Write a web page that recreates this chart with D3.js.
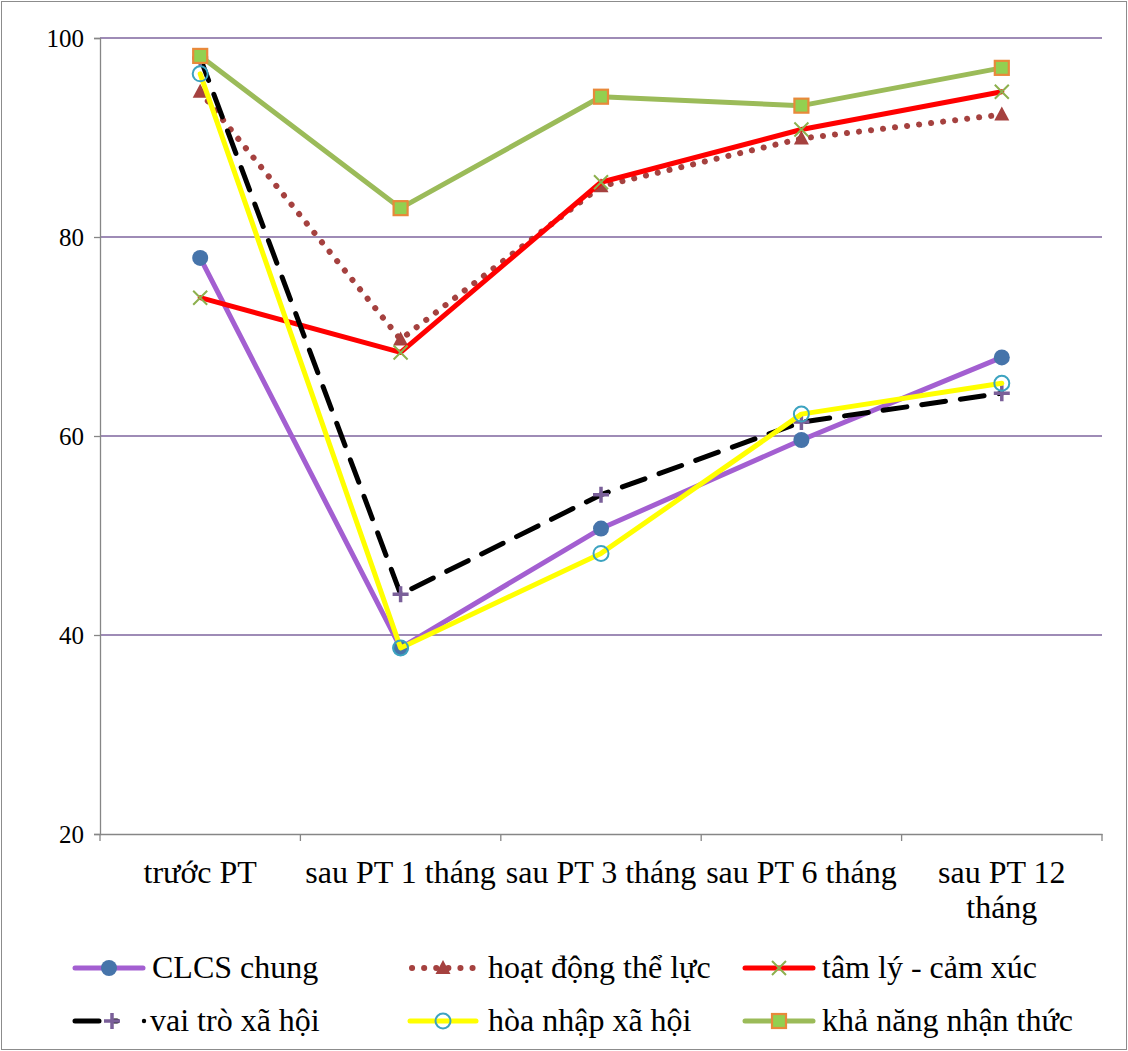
<!DOCTYPE html>
<html>
<head>
<meta charset="utf-8">
<script src="https://cdn.jsdelivr.net/npm/d3@7/dist/d3.min.js"></script>
<style>
  body { margin: 0; background: #fff; }
  svg, svg text { font-family: "Liberation Serif", "Times New Roman", "DejaVu Serif", serif; }
</style>
</head>
<body>
<svg id="chart" width="1128" height="1051"></svg>
<script>
// Time points after surgery
const categories = ["trước PT", "sau PT 1 tháng", "sau PT 3 tháng", "sau PT 6 tháng", "sau PT 12 tháng"];
const categoryLines = [["trước PT"], ["sau PT 1 tháng"], ["sau PT 3 tháng"], ["sau PT 6 tháng"], ["sau PT 12", "tháng"]];
const yTicks = [20, 40, 60, 80, 100];

// Quality-of-life scores per domain
const clcsChung   = [77.9, 38.7, 50.7, 59.6, 67.9];
const hoatDong    = [94.6, 69.7, 85.1, 89.9, 92.3];
const tamLy       = [73.9, 68.4, 85.5, 90.8, 94.6];
const vaiTro      = [98.0, 44.1, 54.1, 61.4, 64.3];
const hoaNhap     = [96.4, 38.7, 48.2, 62.2, 65.3];
const khaNang     = [98.2, 82.9, 94.1, 93.2, 97.0];

const seriesNames = ["CLCS chung", "hoạt động thể lực", "tâm lý - cảm xúc", "vai trò xã hội", "hòa nhập xã hội", "khả năng nhận thức"];
const seriesValues = [clcsChung, hoatDong, tamLy, vaiTro, hoaNhap, khaNang];

const FONT = "'Liberation Serif', 'Times New Roman', 'DejaVu Serif', serif";

const styles = [
  { stroke: "#A35FD1", width: 5, dash: null, marker: "dot" },
  { stroke: "#A5413F", width: 6, dash: "0.1 12", marker: "triangle" },
  { stroke: "#FF0000", width: 5, dash: null, marker: "x" },
  { stroke: "#000000", width: 5, dash: "24 15", marker: "plus" },
  { stroke: "#FFFF00", width: 5, dash: null, marker: "ring" },
  { stroke: "#9BBB59", width: 5, dash: null, marker: "square" }
];

const svg = d3.select("#chart");
const W = 1128, H = 1051;
const plot = { left: 100, right: 1102, top: 38, bottom: 834 };

// frame around the figure
svg.append("rect").attr("x", 1.5).attr("y", 1.5).attr("width", W - 3).attr("height", H - 3)
  .attr("fill", "none").attr("stroke", "#8c8c8c").attr("stroke-width", 1);

const x = d3.scaleBand().domain(categories).range([plot.left, plot.right]).padding(0);
const y = d3.scaleLinear().domain([20, 100]).range([plot.bottom, plot.top]);
const cx = c => x(c) + x.bandwidth() / 2;

// horizontal gridlines
svg.append("g").selectAll("line").data(yTicks.filter(t => t > 20)).join("line")
  .attr("x1", plot.left).attr("x2", plot.right)
  .attr("y1", d => y(d)).attr("y2", d => y(d))
  .attr("stroke", "#7E649E").attr("stroke-width", 1.5);

// y axis
const yAxis = d3.axisLeft(y).tickValues(yTicks).tickSize(6).tickPadding(10);
const gy = svg.append("g").attr("transform", `translate(${plot.left},0)`).call(yAxis)
  .attr("font-family", FONT);
gy.select(".domain").attr("stroke", "#868686").attr("stroke-width", 1.3);
gy.selectAll(".tick line").attr("stroke", "#868686").attr("stroke-width", 1.3);
gy.selectAll(".tick text").attr("font-size", 25).attr("font-family", FONT).attr("fill", "#000");

// x axis
const xAxis = d3.axisBottom(x).tickSize(0).tickFormat(() => "");
const gx = svg.append("g").attr("transform", `translate(0,${plot.bottom})`).call(xAxis);
gx.select(".domain").attr("stroke", "#868686").attr("stroke-width", 1.3);
// tick marks at category boundaries
const bounds = categories.map(c => x(c)).concat([plot.right]);
svg.append("g").selectAll("line").data(bounds).join("line")
  .attr("x1", d => d).attr("x2", d => d)
  .attr("y1", plot.bottom).attr("y2", plot.bottom + 7)
  .attr("stroke", "#868686").attr("stroke-width", 1.3);

// category labels
const catG = svg.append("g");
categories.forEach((c, i) => {
  const t = catG.append("text").attr("x", cx(c)).attr("y", 883)
    .attr("text-anchor", "middle").attr("font-size", 32).attr("font-family", FONT).attr("fill", "#000");
  categoryLines[i].forEach((ln, j) => {
    t.append("tspan").attr("x", cx(c)).attr("dy", j === 0 ? 0 : 35).text(ln);
  });
});

// marker drawing
function drawMarker(g, type, px, py) {
  switch (type) {
    case "dot":
      g.append("circle").attr("cx", px).attr("cy", py).attr("r", 8).attr("fill", "#4674AA");
      break;
    case "triangle":
      g.append("path").attr("d", `M${px},${py - 8}L${px + 7.5},${py + 6}L${px - 7.5},${py + 6}Z`)
        .attr("fill", "#A5413F");
      break;
    case "x":
      g.append("path").attr("d", `M${px - 7},${py - 7}L${px + 7},${py + 7}M${px + 7},${py - 7}L${px - 7},${py + 7}`)
        .attr("stroke", "#8DB04E").attr("stroke-width", 2).attr("fill", "none");
      break;
    case "plus":
      g.append("path").attr("d", `M${px - 8},${py}L${px + 8},${py}M${px},${py - 8}L${px},${py + 8}`)
        .attr("stroke", "#7A5F99").attr("stroke-width", 3.5).attr("fill", "none");
      break;
    case "ring":
      g.append("circle").attr("cx", px).attr("cy", py).attr("r", 7.5)
        .attr("fill", "none").attr("stroke", "#3CA3C0").attr("stroke-width", 2);
      break;
    case "square":
      g.append("rect").attr("x", px - 7).attr("y", py - 7).attr("width", 14).attr("height", 14)
        .attr("fill", "#92D050").attr("stroke", "#E8893A").attr("stroke-width", 2.2);
      break;
  }
}

// series lines + markers
const line = d3.line().x((d, i) => cx(categories[i])).y(d => y(d));
seriesValues.forEach((vals, s) => {
  const st = styles[s];
  const g = svg.append("g");
  g.append("path").datum(vals).attr("d", line)
    .attr("fill", "none").attr("stroke", st.stroke).attr("stroke-width", st.width)
    .attr("stroke-linecap", "round").attr("stroke-linejoin", "round")
    .attr("stroke-dasharray", st.dash);
  vals.forEach((v, i) => drawMarker(g, st.marker, cx(categories[i]), y(v)));
});

// legend
const legendItems = [
  { s: 0, lx: 75, tx: 152, ly: 968, len: 68 },
  { s: 1, lx: 412, tx: 488, ly: 968, len: 62 },
  { s: 2, lx: 745, tx: 822, ly: 968, len: 68 },
  { s: 3, lx: 75, tx: 150, ly: 1021, len: 42 },
  { s: 4, lx: 410, tx: 488, ly: 1021, len: 66 },
  { s: 5, lx: 745, tx: 822, ly: 1021, len: 68 }
];
const lg = svg.append("g");
legendItems.forEach(it => {
  const st = styles[it.s];
  lg.append("line").attr("x1", it.lx).attr("x2", it.lx + it.len)
    .attr("y1", it.ly).attr("y2", it.ly)
    .attr("stroke", st.stroke).attr("stroke-width", st.width)
    .attr("stroke-linecap", "round").attr("stroke-dasharray", st.dash);
  const mx = it.s === 3 ? it.lx + 37 : it.lx + it.len / 2;
  drawMarker(lg, st.marker, mx, it.ly);
  if (it.s === 3) {
    lg.append("circle").attr("cx", it.tx - 6).attr("cy", it.ly).attr("r", 2.2).attr("fill", "#000");
  }
  lg.append("text").attr("x", it.tx).attr("y", it.ly + 10).attr("font-size", 32)
    .attr("font-family", FONT).attr("fill", "#000").text(seriesNames[it.s]);
});
</script>
</body>
</html>
